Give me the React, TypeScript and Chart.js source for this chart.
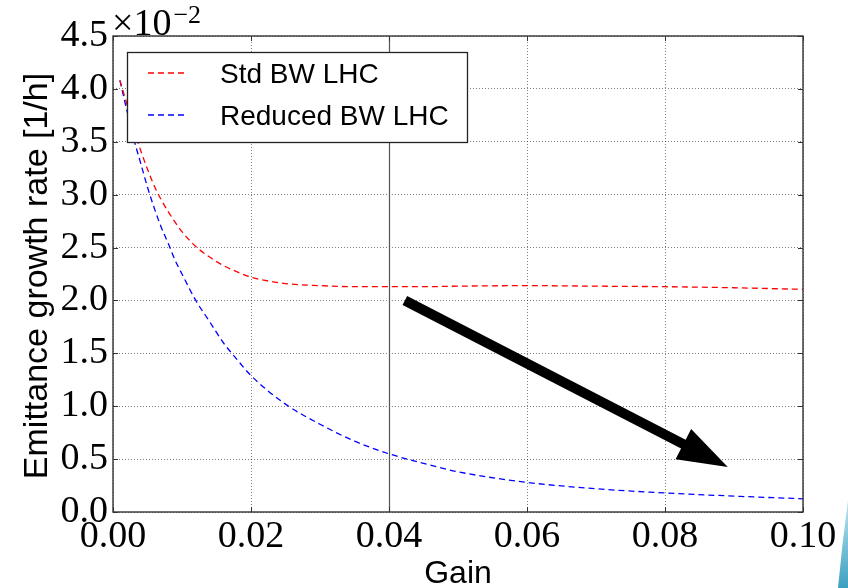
import React, { useEffect, useRef } from 'react';
import { Chart, registerables } from 'chart.js';

Chart.register(...registerables);

// ---------- data ----------
const GAIN = [0.001, 0.002, 0.003, 0.004, 0.005, 0.006, 0.007, 0.008, 0.009, 0.010, 0.012, 0.014, 0.016, 0.018, 0.020, 0.025, 0.030, 0.035, 0.040, 0.045, 0.050, 0.060, 0.070, 0.080, 0.090, 0.100];
const STD_BW = [4.08, 3.86, 3.62, 3.42, 3.24, 3.08, 2.95, 2.84, 2.74, 2.65, 2.51, 2.41, 2.33, 2.27, 2.22, 2.16, 2.14, 2.13, 2.13, 2.13, 2.135, 2.14, 2.135, 2.13, 2.12, 2.105];
const REDUCED_BW = [4.08, 3.80, 3.53, 3.30, 3.07, 2.87, 2.69, 2.54, 2.38, 2.25, 2.00, 1.80, 1.60, 1.44, 1.29, 1.02, 0.83, 0.67, 0.55, 0.46, 0.38, 0.28, 0.22, 0.18, 0.15, 0.125];
const SERIES_NAMES = ['Std BW LHC', 'Reduced BW LHC'];
const SERIES_COLORS = ['rgb(255,0,0)', 'rgb(0,0,255)'];
const X_TICKS = [0, 0.02, 0.04, 0.06, 0.08, 0.10];
const Y_TICKS = [0, 0.5, 1.0, 1.5, 2.0, 2.5, 3.0, 3.5, 4.0, 4.5];
const X_TITLE = 'Gain';
const Y_TITLE = 'Emittance growth rate [1/h]';
const SCALE_BASE = '×10';
const SCALE_EXP = '−2';
const MARKER_GAIN = 0.04;
const ARROW_FROM = { x: 0.0423, y: 2.0 };
const ARROW_TO = { x: 0.0891, y: 0.425 };

const SERIF = '"Liberation Serif", "DejaVu Serif", serif';
const SANS = '"Liberation Sans", Arial, sans-serif';
const DASH = [6, 4];

const overlay = {
  id: 'overlay',
  beforeDatasetsDraw(chart: any) {
    const { ctx, chartArea: a, scales } = chart;
    const px = Math.round(scales.x.getPixelForValue(MARKER_GAIN)) + 0.5;
    ctx.save();
    ctx.strokeStyle = '#555555';
    ctx.lineWidth = 1.2;
    ctx.beginPath();
    ctx.moveTo(px, a.top);
    ctx.lineTo(px, a.bottom);
    ctx.stroke();
    ctx.restore();
  },
  afterDatasetsDraw(chart: any) {
    const { ctx, chartArea: a, scales } = chart;
    const xs = scales.x, ys = scales.y;
    ctx.save();

    // arrow
    const x0 = xs.getPixelForValue(ARROW_FROM.x), y0 = ys.getPixelForValue(ARROW_FROM.y);
    const x1 = xs.getPixelForValue(ARROW_TO.x), y1 = ys.getPixelForValue(ARROW_TO.y);
    const dx = x1 - x0, dy = y1 - y0;
    const len = Math.hypot(dx, dy);
    const ux = dx / len, uy = dy / len, nx = -uy, ny = ux;
    const headLen = 50, headHalf = 17, shaftHalf = 5;
    const bx = x1 - ux * headLen, by = y1 - uy * headLen;
    ctx.fillStyle = '#000';
    ctx.beginPath();
    ctx.moveTo(x0 + nx * shaftHalf, y0 + ny * shaftHalf);
    ctx.lineTo(bx + nx * shaftHalf, by + ny * shaftHalf);
    ctx.lineTo(bx + nx * headHalf, by + ny * headHalf);
    ctx.lineTo(x1, y1);
    ctx.lineTo(bx - nx * headHalf, by - ny * headHalf);
    ctx.lineTo(bx - nx * shaftHalf, by - ny * shaftHalf);
    ctx.lineTo(x0 - nx * shaftHalf, y0 - ny * shaftHalf);
    ctx.closePath();
    ctx.fill();

    // legend
    const lx = a.left + 14, ly = a.top + 16, lw = 340, lh = 90;
    ctx.fillStyle = '#fff';
    ctx.fillRect(lx, ly, lw, lh);
    ctx.strokeStyle = '#222';
    ctx.lineWidth = 1.3;
    ctx.strokeRect(lx + 0.5, ly + 0.5, lw, lh);
    ctx.font = `28px ${SANS}`;
    ctx.textAlign = 'left';
    ctx.textBaseline = 'alphabetic';
    for (let i = 0; i < SERIES_NAMES.length; i++) {
      const rowY = ly + 21 + i * 42;
      ctx.save();
      ctx.strokeStyle = SERIES_COLORS[i];
      ctx.lineWidth = 1.3;
      ctx.setLineDash(DASH);
      ctx.beginPath();
      ctx.moveTo(lx + 21, rowY);
      ctx.lineTo(lx + 61, rowY);
      ctx.stroke();
      ctx.restore();
      ctx.fillStyle = '#000';
      ctx.fillText(SERIES_NAMES[i], lx + 93, rowY + 10);
    }

    // frame
    ctx.strokeStyle = '#333';
    ctx.lineWidth = 1.4;
    ctx.setLineDash([]);
    ctx.strokeRect(a.left, a.top, a.right - a.left, a.bottom - a.top);

    // inward tick marks on all sides
    ctx.lineWidth = 1;
    ctx.beginPath();
    X_TICKS.forEach((t) => {
      const p = Math.round(xs.getPixelForValue(t)) + 0.5;
      ctx.moveTo(p, a.bottom); ctx.lineTo(p, a.bottom - 5);
      ctx.moveTo(p, a.top); ctx.lineTo(p, a.top + 5);
    });
    Y_TICKS.forEach((t) => {
      const p = Math.round(ys.getPixelForValue(t)) + 0.5;
      ctx.moveTo(a.left, p); ctx.lineTo(a.left + 5, p);
      ctx.moveTo(a.right, p); ctx.lineTo(a.right - 5, p);
    });
    ctx.stroke();

    // scale factor label
    ctx.fillStyle = '#000';
    ctx.font = `38px ${SERIF}`;
    ctx.fillText(SCALE_BASE, a.left - 1, 35);
    const w = ctx.measureText(SCALE_BASE).width;
    ctx.font = `26px ${SERIF}`;
    ctx.fillText(SCALE_EXP, a.left - 1 + w + 2, 23);

    // axis titles
    ctx.font = `34px ${SANS}`;
    ctx.textAlign = 'center';
    ctx.save();
    ctx.translate(47, 276);
    ctx.rotate(-Math.PI / 2);
    ctx.fillText(Y_TITLE, 0, 0);
    ctx.restore();
    ctx.font = `32px ${SANS}`;
    ctx.fillText(X_TITLE, (a.left + a.right) / 2, 583);

    // decorative corner swoosh
    const g = ctx.createLinearGradient(838, 500, 848, 588);
    g.addColorStop(0, '#bfe6f0');
    g.addColorStop(1, '#3a9fbf');
    ctx.fillStyle = g;
    ctx.beginPath();
    ctx.moveTo(848, 500);
    ctx.lineTo(848, 588);
    ctx.lineTo(838, 588);
    ctx.quadraticCurveTo(842, 545, 848, 500);
    ctx.closePath();
    ctx.fill();

    ctx.restore();
  },
};

export default function App() {
  const ref = useRef<HTMLCanvasElement>(null);
  useEffect(() => {
    if (!ref.current) return;
    const mk = (vals: number[]) => GAIN.map((x, i) => ({ x, y: vals[i] }));
    const chart = new Chart(ref.current, {
      type: 'line',
      data: {
        datasets: [STD_BW, REDUCED_BW].map((vals, i) => ({
          label: SERIES_NAMES[i],
          data: mk(vals),
          borderColor: SERIES_COLORS[i],
          borderWidth: 1.3,
          borderDash: DASH,
          pointRadius: 0,
          fill: false,
          cubicInterpolationMode: 'monotone' as const,
        })),
      },
      options: {
        responsive: false,
        animation: false,
        events: [],
        layout: { padding: { top: 36, right: 45, left: 0, bottom: 0 } },
        plugins: { legend: { display: false }, tooltip: { enabled: false } },
        scales: {
          x: {
            type: 'linear',
            min: 0,
            max: 0.1,
            afterBuildTicks: (s: any) => { s.ticks = X_TICKS.map((v) => ({ value: v })); },
            afterFit: (s: any) => { s.height = 76; },
            ticks: {
              callback: (v: any) => Number(v).toFixed(2),
              font: { family: SERIF, size: 38 },
              color: '#000',
              padding: 2,
              maxRotation: 0,
              autoSkip: false,
            },
            grid: { color: 'rgba(0,0,0,0.5)', lineWidth: 1, drawTicks: false },
            border: { display: false, dash: [1, 2] },
          },
          y: {
            type: 'linear',
            min: 0,
            max: 4.5,
            afterBuildTicks: (s: any) => { s.ticks = Y_TICKS.map((v) => ({ value: v })); },
            afterFit: (s: any) => { s.width = 113; },
            ticks: {
              callback: (v: any) => Number(v).toFixed(1),
              font: { family: SERIF, size: 38 },
              color: '#000',
              padding: 5,
              autoSkip: false,
            },
            grid: { color: 'rgba(0,0,0,0.5)', lineWidth: 1, drawTicks: false },
            border: { display: false, dash: [1, 2] },
          },
        },
      },
      plugins: [overlay],
    } as any);
    return () => chart.destroy();
  }, []);
  return (
    <div style={{ position: 'absolute', left: 0, top: 0, width: 848, height: 588, background: '#fff' }}>
      <canvas ref={ref} width={848} height={588} style={{ display: 'block' }} />
    </div>
  );
}
